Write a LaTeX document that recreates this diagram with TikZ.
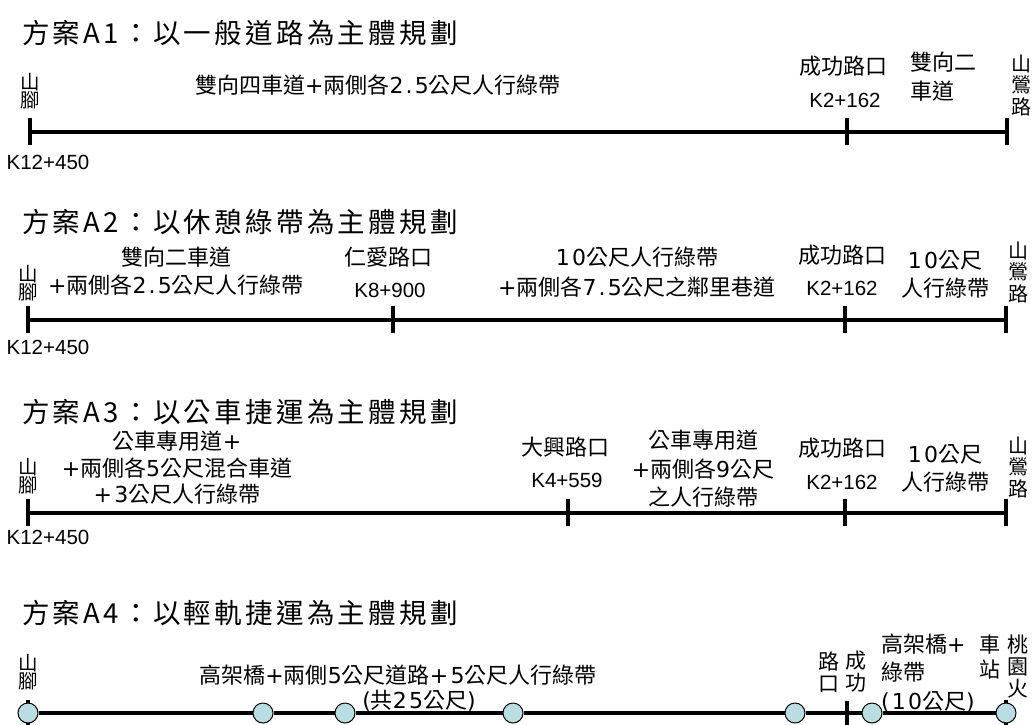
\documentclass[tikz,border=0pt]{standalone}
\usepackage{fontspec}
\setmainfont{Liberation Sans}
\newfontfamily\cjk{Noto Sans CJK TC}
\newfontfamily\cjkt{Noto Sans CJK TC}[LetterSpace=12]
\newfontfamily\latf{DejaVu Sans}[LetterSpace=10]
\newcommand\ltn[1]{{\latf #1}}
\definecolor{stn}{RGB}{185,222,226}
\tikzset{
  road/.style={line width=4.5pt},
  tickmark/.style={line width=3.5pt},
  ttl/.style={anchor=west, inner sep=0pt, font=\cjkt\fontsize{27.5}{30}\selectfont},
  lab/.style={inner sep=0pt, align=center, font=\cjk\fontsize{22}{28}\selectfont},
  labl/.style={inner sep=0pt, align=left, font=\cjk\fontsize{22}{28.5}\selectfont},
  km/.style={inner sep=0pt, font=\fontsize{20.5}{24}\selectfont},
  vsm/.style={inner sep=0pt, align=center, font=\cjk\fontsize{19.5}{15.5}\selectfont},
  vend/.style={inner sep=0pt, align=center, font=\cjk\fontsize{20}{21.5}\selectfont},
  vcol/.style={inner sep=0pt, align=center, font=\cjk\fontsize{21}{22}\selectfont},
  station/.style={circle, draw=black, line width=1pt, fill=stn, minimum size=20pt, inner sep=0pt}
}
\begin{document}
\begin{tikzpicture}[x=1pt,y=-1pt]
\useasboundingbox (0,0) rectangle (1033,724);

% ---------------- A1
\node[ttl] (t1) at (22,33) {方案A1：以一般道路為主體規劃};
\coordinate (a1s) at (30,132);
\coordinate (a1k) at (847,132);
\coordinate (a1e) at (1007,132);
\draw[road] (a1s) -- (a1e);
\foreach \c in {a1s,a1k,a1e}{\draw[tickmark] ([yshift=14pt]\c) -- ([yshift=-13pt]\c);}
\node[vsm] (sj1) at (30,91) {山\\腳};
\node[km] (k1a) at (48,162) {K12+450};
\node[lab] (l1a) at (378,85) {雙向四車道\ltn{+}兩側各\ltn{2.5}公尺人行綠帶};
\node[lab] (l1b) at (843,66) {成功路口};
\node[km] (k1b) at (845,100) {K2+162};
\node[labl,anchor=west,font=\cjk\fontsize{22}{29}\selectfont] (l1c) at (910,77) {雙向二\\車道};
\node[vend] (sy1) at (1021,85) {山\\鶯\\路};

% ---------------- A2
\node[ttl] (t2) at (22,222) {方案A2：以休憩綠帶為主體規劃};
\coordinate (a2s) at (28,320);
\coordinate (a2a) at (393,320);
\coordinate (a2k) at (845,320);
\coordinate (a2e) at (1006,320);
\draw[road] (a2s) -- (a2e);
\foreach \c in {a2s,a2a,a2k,a2e}{\draw[tickmark] ([yshift=14pt]\c) -- ([yshift=-13pt]\c);}
\node[vsm] (sj2) at (28,283) {山\\腳};
\node[km] (k2a) at (48,347) {K12+450};
\node[lab] (l2a) at (176,271) {雙向二車道\\\ltn{+}兩側各\ltn{2.5}公尺人行綠帶};
\node[lab] (l2b) at (388,257) {仁愛路口};
\node[km] (k2b) at (390,290) {K8+900};
\node[lab,font=\cjk\fontsize{22}{30}\selectfont] (l2c) at (637,272) {\ltn{10}公尺人行綠帶\\\ltn{+}兩側各\ltn{7.5}公尺之鄰里巷道};
\node[lab] (l2d) at (842,255) {成功路口};
\node[km] (k2d) at (842,288) {K2+162};
\node[lab] (l2e) at (945,274) {\ltn{10}公尺\\人行綠帶};
\node[vend] (sy2) at (1018,272) {山\\鶯\\路};

% ---------------- A3
\node[ttl] (t3) at (22,412) {方案A3：以公車捷運為主體規劃};
\coordinate (a3s) at (28,513);
\coordinate (a3a) at (568,513);
\coordinate (a3k) at (845,513);
\coordinate (a3e) at (1006,513);
\draw[road] (a3s) -- (a3e);
\foreach \c in {a3s,a3a,a3k,a3e}{\draw[tickmark] ([yshift=14pt]\c) -- ([yshift=-13pt]\c);}
\node[vsm,font=\cjk\fontsize{19.5}{18}\selectfont] (sj3) at (28,476) {山\\腳};
\node[km] (k3a) at (48,537) {K12+450};
\node[lab,font=\cjk\fontsize{22}{26.5}\selectfont] (l3a) at (177,468) {公車專用道\ltn{+}\\\ltn{+}兩側各\ltn{5}公尺混合車道\\\ltn{+3}公尺人行綠帶};
\node[lab] (l3b) at (565,447) {大興路口};
\node[km] (k3b) at (567,480) {K4+559};
\node[lab,font=\cjk\fontsize{22}{28.5}\selectfont] (l3c) at (703,469) {公車專用道\\\ltn{+}兩側各\ltn{9}公尺\\之人行綠帶};
\node[lab] (l3d) at (842,448) {成功路口};
\node[km] (k3d) at (842,482) {K2+162};
\node[lab] (l3e) at (945,468) {\ltn{10}公尺\\人行綠帶};
\node[vend] (sy3) at (1018,467) {山\\鶯\\路};

% ---------------- A4
\node[ttl] (t4) at (22,613) {方案A4：以輕軌捷運為主體規劃};
\coordinate (tk4) at (847,714);
\draw[tickmark] ([yshift=13pt]tk4) -- ([yshift=-14pt]tk4);
\coordinate (ts4) at (28,714);
\coordinate (te4) at (1006,714);
\draw[tickmark] ([yshift=14pt]ts4) -- ([yshift=-13pt]ts4);
\draw[tickmark] ([yshift=14pt]te4) -- ([yshift=-13pt]te4);
\node[station] (c1) at (28,713) {};
\node[station] (c2) at (263,713) {};
\node[station] (c3) at (345,713) {};
\node[station] (c4) at (513,713) {};
\node[station] (c5) at (795,713) {};
\node[station] (c6) at (872,713) {};
\node[station] (c7) at (1006,713) {};
\draw[road] (c1) -- (c2) (c2) -- (c3) (c3) -- (c4) (c4) -- (c5) (c5) -- (c6) (c6) -- (c7);
\node[vsm] (sj4) at (28,672) {山\\腳};
\node[lab] (l4a) at (398,675) {高架橋\ltn{+}兩側\ltn{5}公尺道路\ltn{+5}公尺人行綠帶};
\node[lab] (l4b) at (419,701) {\ltn{(}共\ltn{25}公尺\ltn{)}};
\node[vcol] (l4c) at (829,672) {路\\口};
\node[vcol] (l4d) at (856,672) {成\\功};
\node[labl,anchor=west] (l4e) at (881,673) {高架橋\ltn{+}\\綠帶\\\ltn{(10}公尺\ltn{)}};
\node[vcol,font=\cjk\fontsize{21}{25}\selectfont] (l4f) at (990,657) {車\\站};
\node[vcol] (l4g) at (1018,667) {桃\\園\\火};
\end{tikzpicture}
\end{document}
